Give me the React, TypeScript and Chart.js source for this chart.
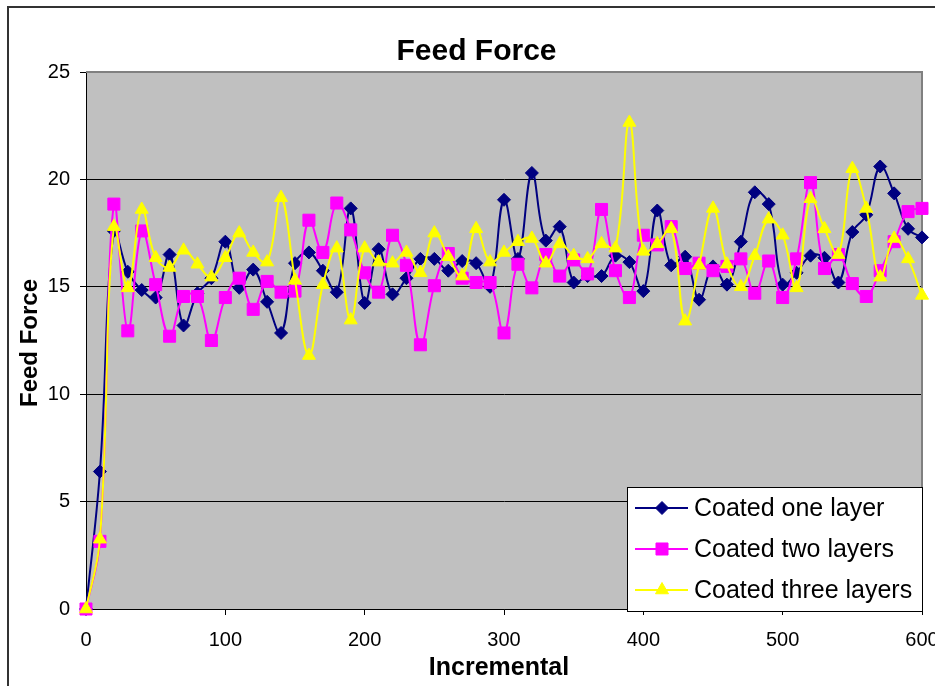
import React, { useEffect, useRef } from 'react';
import { Chart, registerables } from 'chart.js';

Chart.register(...registerables);

const FONT = '"Liberation Sans", Arial, sans-serif';

const chartTitle = 'Feed Force';
const xAxisTitle = 'Incremental';
const yAxisTitle = 'Feed Force';
const seriesNames = ['Coated one layer', 'Coated two layers', 'Coated three layers'];
const seriesColors = ['#000080', '#FF00FF', '#FFFF00'];

const increments = [
  0, 10, 20, 30, 40, 50, 60, 70, 80, 90,
  100, 110, 120, 130, 140, 150, 160, 170, 180, 190,
  200, 210, 220, 230, 240, 250, 260, 270, 280, 290,
  300, 310, 320, 330, 340, 350, 360, 370, 380, 390,
  400, 410, 420, 430, 440, 450, 460, 470, 480, 490,
  500, 510, 520, 530, 540, 550, 560, 570, 580, 590,
  600,
];

const coatedOneLayer = [
  0, 6.4, 17.6, 15.7, 14.85, 14.5, 16.5, 13.2, 14.7, 15.4,
  17.1, 14.95, 15.8, 14.3, 12.85, 16.1, 16.6, 15.75, 14.75, 18.65,
  14.25, 16.75, 14.65, 15.4, 16.3, 16.3, 15.75, 16.2, 16.1, 15.0,
  19.05, 16.3, 20.3, 17.15, 17.8, 15.2, 15.5, 15.5, 16.45, 16.15,
  14.8, 18.55, 16.0, 16.4, 14.4, 15.95, 15.1, 17.1, 19.4, 18.85,
  15.1, 15.65, 16.45, 16.35, 15.2, 17.55, 18.35, 20.6, 19.35, 17.7,
  17.3,
];

const coatedTwoLayers = [
  0, 3.15, 18.85, 12.95, 17.6, 15.1, 12.7, 14.55, 14.55, 12.5,
  14.5, 15.4, 13.95, 15.25, 14.75, 14.8, 18.1, 16.6, 18.9, 17.65,
  15.65, 14.75, 17.4, 16.0, 12.3, 15.05, 16.55, 15.4, 15.2, 15.2,
  12.85, 16.05, 14.95, 16.5, 15.5, 16.25, 15.6, 18.6, 15.75, 14.5,
  17.4, 16.95, 17.8, 15.85, 16.1, 15.75, 15.95, 16.3, 14.7, 16.2,
  14.5, 16.3, 19.85, 15.85, 16.5, 15.15, 14.55, 15.75, 17.1, 18.5,
  18.65,
];

const coatedThreeLayers = [
  0, 3.25, 17.8, 14.95, 18.6, 16.35, 15.9, 16.7, 16.05, 15.45,
  16.35, 17.5, 16.6, 16.15, 19.15, 15.3, 11.8, 15.1, 16.8, 13.45,
  16.8, 16.15, 16.1, 16.6, 15.65, 17.5, 16.4, 15.5, 17.7, 16.15,
  16.6, 17.1, 17.25, 16.1, 17.0, 16.45, 16.3, 17.0, 16.8, 22.65,
  16.65, 17.0, 17.7, 13.4, 16.0, 18.65, 16.05, 15.0, 16.45, 18.15,
  17.4, 14.95, 19.1, 17.7, 16.5, 20.5, 18.65, 15.45, 17.25, 16.3,
  14.6,
];

const xTicks = { min: 0, max: 600, step: 100 };
const yTicks = { min: 0, max: 25, step: 5 };

const pointStyles = ['rectRot', 'rect', 'triangle'];
const pointRadii = [6.5, 8.5, 7.5];

function toPoints(ys: number[]) {
  return increments.map((x, i) => ({ x, y: ys[i] }));
}

function drawMarker(ctx: CanvasRenderingContext2D, style: string, r: number, x: number, y: number) {
  ctx.beginPath();
  if (style === 'rectRot') {
    ctx.moveTo(x, y - r);
    ctx.lineTo(x + r, y);
    ctx.lineTo(x, y + r);
    ctx.lineTo(x - r, y);
    ctx.closePath();
  } else if (style === 'rect') {
    const s = r * Math.SQRT1_2;
    ctx.rect(x - s, y - s, 2 * s, 2 * s);
  } else {
    const h = r * 0.866;
    ctx.moveTo(x, y - r);
    ctx.lineTo(x + h, y + r / 2);
    ctx.lineTo(x - h, y + r / 2);
    ctx.closePath();
  }
  ctx.fill();
  ctx.stroke();
}

const decorPlugin = {
  id: 'decor',
  beforeDraw(chart: any) {
    const { ctx, chartArea: a, width, height } = chart;
    ctx.save();
    ctx.fillStyle = '#ffffff';
    ctx.fillRect(0, 0, width, height);
    ctx.fillStyle = '#C0C0C0';
    ctx.fillRect(a.left, a.top, a.right - a.left, a.bottom - a.top);
    ctx.strokeStyle = '#333333';
    ctx.lineWidth = 2;
    ctx.strokeRect(8, 7, width + 20, height + 20);
    ctx.restore();
  },
  beforeDatasetsDraw(chart: any) {
    const { ctx, chartArea: a } = chart;
    ctx.save();
    ctx.strokeStyle = '#808080';
    ctx.lineWidth = 2;
    ctx.beginPath();
    ctx.moveTo(a.left, a.top);
    ctx.lineTo(a.right, a.top);
    ctx.lineTo(a.right, a.bottom);
    ctx.stroke();
    ctx.restore();
  },
  afterDraw(chart: any) {
    const { ctx } = chart;
    ctx.save();
    ctx.fillStyle = '#000';
    ctx.font = `bold 30px ${FONT}`;
    ctx.textAlign = 'center';
    ctx.textBaseline = 'alphabetic';
    ctx.fillText(chartTitle, 476.5, 60);
    ctx.font = `bold 25px ${FONT}`;
    ctx.fillText(xAxisTitle, 499, 675);
    ctx.save();
    ctx.translate(37, 343);
    ctx.rotate(-Math.PI / 2);
    ctx.font = `bold 24px ${FONT}`;
    ctx.fillText(yAxisTitle, 0, 0);
    ctx.restore();

    const lx = 627, ly = 487, lw = 295, lh = 124;
    ctx.fillStyle = '#ffffff';
    ctx.fillRect(lx, ly, lw, lh);
    ctx.strokeStyle = '#000';
    ctx.lineWidth = 1;
    ctx.strokeRect(lx + 0.5, ly + 0.5, lw, lh);
    const rows = [508, 549, 590];
    chart.data.datasets.forEach((ds: any, i: number) => {
      const y = rows[i];
      ctx.strokeStyle = ds.borderColor;
      ctx.lineWidth = 2;
      ctx.beginPath();
      ctx.moveTo(635, y);
      ctx.lineTo(688, y);
      ctx.stroke();
      ctx.fillStyle = ds.borderColor;
      ctx.lineWidth = 1;
      drawMarker(ctx, pointStyles[i], pointRadii[i], 662, y);
      ctx.fillStyle = '#000';
      ctx.font = `25px ${FONT}`;
      ctx.textAlign = 'left';
      ctx.textBaseline = 'middle';
      ctx.fillText(ds.label, 694, y + 1);
    });
    ctx.restore();
  },
};

export default function App() {
  const canvasRef = useRef<HTMLCanvasElement | null>(null);

  useEffect(() => {
    const canvas = canvasRef.current;
    if (!canvas) return;
    const allSeries = [coatedOneLayer, coatedTwoLayers, coatedThreeLayers];
    const chart = new Chart(canvas, {
      type: 'line',
      data: {
        datasets: allSeries.map((ys, i) => ({
          label: seriesNames[i],
          data: toPoints(ys),
          borderColor: seriesColors[i],
          backgroundColor: seriesColors[i],
          pointBackgroundColor: seriesColors[i],
          pointBorderColor: seriesColors[i],
          pointBorderWidth: 1,
          pointStyle: pointStyles[i],
          pointRadius: pointRadii[i],
          borderWidth: 2,
          tension: 0.4,
          fill: false,
          clip: false,
          order: 2 - i,
        })),
      },
      options: {
        responsive: false,
        animation: false,
        devicePixelRatio: 1,
        layout: { padding: { top: 72, right: 13, left: 0, bottom: 0 } },
        plugins: {
          legend: { display: false },
          title: { display: false },
          tooltip: { enabled: false },
        },
        scales: {
          x: {
            type: 'linear',
            min: xTicks.min,
            max: xTicks.max,
            ticks: {
              stepSize: xTicks.step,
              color: '#000',
              font: { family: FONT, size: 20 },
              padding: 13,
              maxRotation: 0,
            },
            grid: { drawOnChartArea: false, drawTicks: true, tickLength: 6, color: '#000' },
            border: { color: '#000', width: 1 },
            afterFit(s: any) {
              s.height = 77;
              s.paddingLeft = 0;
              s.paddingRight = 0;
            },
          },
          y: {
            type: 'linear',
            min: yTicks.min,
            max: yTicks.max,
            ticks: {
              stepSize: yTicks.step,
              color: '#000',
              font: { family: FONT, size: 20 },
              padding: 10,
            },
            grid: { color: '#000', lineWidth: 1, drawTicks: true, tickLength: 6 },
            border: { color: '#000', width: 1 },
            afterFit(s: any) {
              s.width = 86;
            },
          },
        },
      },
      plugins: [decorPlugin],
    } as any);
    return () => chart.destroy();
  }, []);

  return (
    <div style={{ position: 'absolute', left: 0, top: 0, width: 935, height: 686 }}>
      <canvas ref={canvasRef} width={935} height={686} style={{ width: 935, height: 686 }} />
    </div>
  );
}
